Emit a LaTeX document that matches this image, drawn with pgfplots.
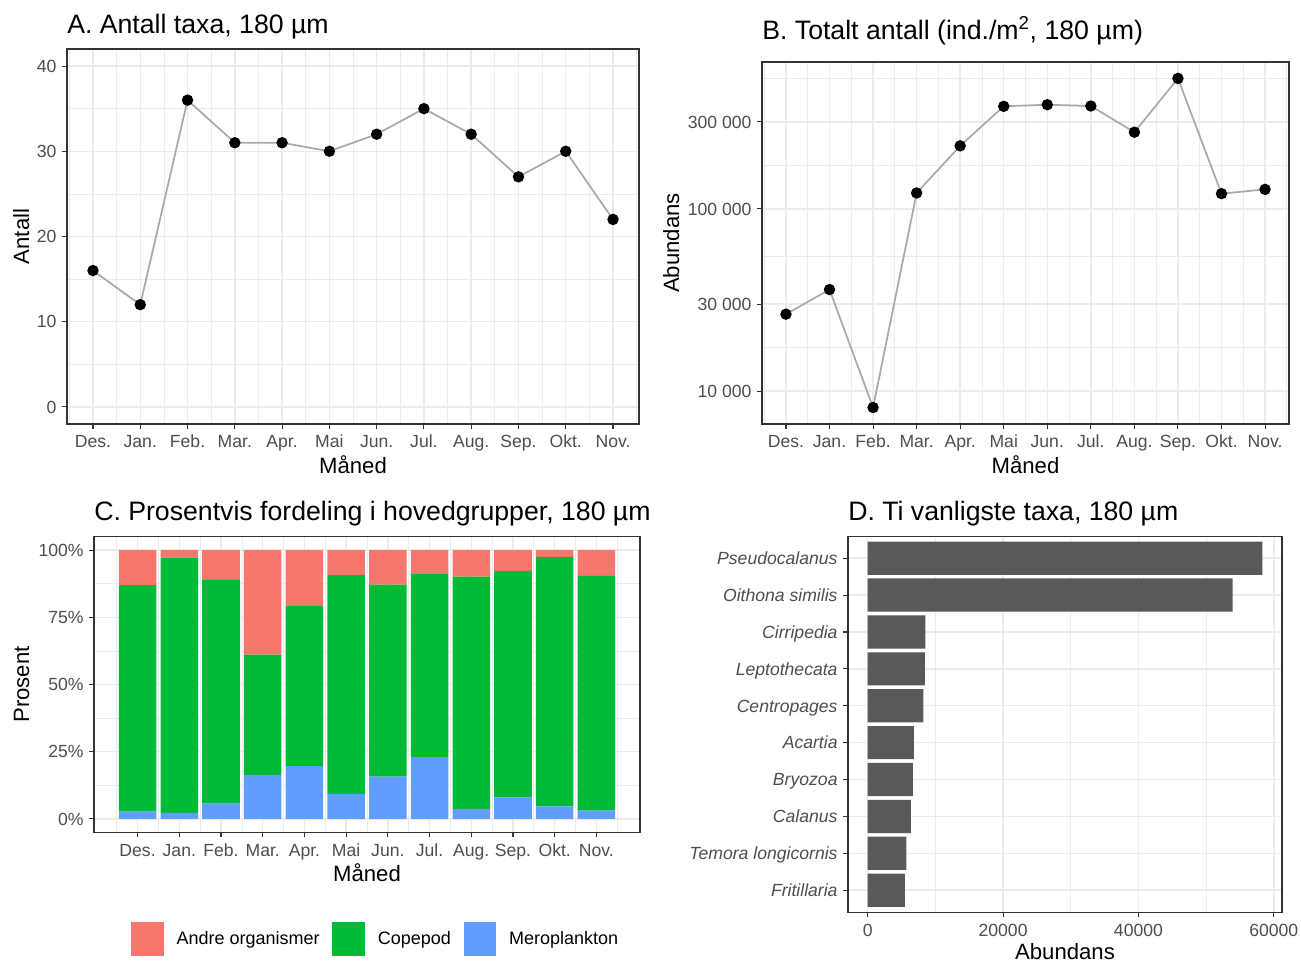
\documentclass[border=0pt]{standalone}
\usepackage{pgfplots}
\pgfplotsset{compat=1.18}
\usepackage{fontspec}
\setmainfont{Liberation Sans}
\definecolor{gray20c}{HTML}{333333}
\definecolor{gridc}{HTML}{EBEBEB}
\definecolor{tickc}{HTML}{4D4D4D}
\definecolor{lred}{HTML}{F8766D}
\definecolor{lgreen}{HTML}{00BA38}
\definecolor{lblue}{HTML}{619CFF}
\definecolor{barg}{HTML}{595959}
\definecolor{lineg}{HTML}{A9A9A9}
\pgfplotsset{
 gg/.style={
  scale only axis,
  anchor=south west,
  axis line style={draw=gray20c, line width=0.8pt},
  tick align=outside,
  xtick pos=bottom, ytick pos=left,
  major tick length=3.75pt,
  minor tick length=0pt,
  tick style={draw=gray20c, line width=0.8pt},
  grid style={draw=gridc, line width=1.1pt},
  minor grid style={draw=gridc, line width=0.55pt},
  xmajorgrids, ymajorgrids,
  scaled x ticks=false, scaled y ticks=false,
  tick label style={font=\fontsize{13.2}{15}\selectfont, text=tickc, inner sep=0pt},
  label style={font=\fontsize{16.6}{19}\selectfont, inner sep=0pt},
  title style={font=\fontsize{20}{24}\selectfont, at={(axis description cs:0,1)}, anchor=base west, inner sep=0pt},
  xlabel style={at={(axis description cs:0.5,0)}, anchor=base, yshift=-37.5pt},
  ylabel style={anchor=base},
  xticklabel style={anchor=base, yshift=-14pt},
  yticklabel style={anchor=base east, xshift=-3.9pt, yshift=-4.7pt},
  /pgf/number format/assume math mode=true,
  /pgf/number format/1000 sep={},
 },
 months/.style={
  xtick={0,...,11},
  xticklabels={Des.,Jan.,Feb.,Mar.,Apr.,Mai,Jun.,Jul.,Aug.,Sep.,Okt.,Nov.},
  minor xtick={-0.5,0.5,...,11.5},
  xminorgrids,
 }
}
\begin{document}
\begin{tikzpicture}
\path[use as bounding box] (0pt,0pt) rectangle (975.75pt,722.25pt);

% ---------------- A ----------------
\begin{axis}[gg, months, at={(50.25pt,404.25pt)}, width=429pt, height=281.25pt,
 xmin=-0.55, xmax=11.55, ymin=-2, ymax=42,
 ytick={0,10,20,30,40}, minor ytick={5,15,25,35}, yminorgrids,
 title={A. Antall taxa, 180 µm}, title style={yshift=5.5pt},
 xlabel={Måned}, ylabel={Antall},
 ylabel style={at={(axis description cs:-0.0664,0.5)}}]
\addplot[color=lineg, line width=1.3pt, mark=*, mark size=3.6pt, mark options={draw=black, fill=black}] coordinates {
(0,16) (1,12) (2,36) (3,31) (4,31) (5,30) (6,32) (7,35) (8,32) (9,27) (10,30) (11,22)};
\end{axis}

% ---------------- B ----------------
\begin{axis}[gg, months, at={(571.5pt,404.25pt)}, width=395.25pt, height=271.5pt,
 ymode=log,
 xmin=-0.55, xmax=11.55, ymin=6608, ymax=639700,
 ytick={10000,30000,100000,300000}, yticklabels={{10 000},{30 000},{100 000},{300 000}},
 minor ytick={17320.5,54772.3,173205,519615}, yminorgrids,
 title={B. Totalt antall (ind./m\textsuperscript{2}, 180 µm)}, title style={yshift=10.5pt},
 xlabel={Måned}, ylabel={Abundans},
 ylabel style={at={(axis description cs:-0.1575,0.5)}}]
\addplot[color=lineg, line width=1.3pt, mark=*, mark size=3.6pt, mark options={draw=black, fill=black}] coordinates {
(0,26450) (1,36090) (2,8135) (3,122300) (4,221800) (5,365400) (6,372900) (7,366900) (8,263500) (9,519700) (10,121200) (11,127950)};
\end{axis}

% ---------------- C ----------------
\begin{axis}[gg, months, at={(70.5pt,98pt)}, width=409.5pt, height=221.7pt,
 ybar stacked, bar width=0.9,
 xmin=-1.045, xmax=12.045, ymin=-5, ymax=105,
 ytick={0,25,50,75,100}, yticklabels={0\%,25\%,50\%,75\%,100\%},
 minor ytick={12.5,37.5,62.5,87.5}, yminorgrids,
 title={C. Prosentvis fordeling i hovedgrupper, 180 µm}, title style={yshift=6pt},
 xlabel={Måned}, ylabel={Prosent},
 xlabel style={yshift=1pt},
 ylabel style={at={(axis description cs:-0.119,0.5)}},
 legend style={draw=none, fill=none, at={(axis description cs:0.0678,-0.361)}, anchor=west,
   inner sep=0pt, outer sep=0pt, font=\fontsize{13.5}{16}\selectfont,
   nodes={inner sep=0pt},
   /tikz/every odd column/.style={column sep=9.75pt},
   /tikz/every even column/.style={column sep=9.5pt}},
 legend columns=3, legend cell align=left,
 legend image code/.code={\fill[#1] (0pt,-12.75pt) rectangle (24.4pt,12.75pt);}]
\addlegendimage{fill=lred, draw=none}\addlegendentry{Andre organismer}
\addlegendimage{fill=lgreen, draw=none}\addlegendentry{Copepod}
\addlegendimage{fill=lblue, draw=none}\addlegendentry{Meroplankton}
\addplot[fill=lblue, draw=none] coordinates {
(0,2.7) (1,2.2) (2,5.7) (3,16.3) (4,19.6) (5,9.3) (6,15.7) (7,23.0) (8,3.7) (9,8.0) (10,4.7) (11,3.1)};
\addplot[fill=lgreen, draw=none] coordinates {
(0,84.3) (1,95.0) (2,83.2) (3,44.8) (4,59.7) (5,81.4) (6,71.5) (7,68.1) (8,86.5) (9,84.3) (10,92.8) (11,87.3)};
\addplot[fill=lred, draw=none] coordinates {
(0,13.0) (1,2.8) (2,11.1) (3,38.9) (4,20.7) (5,9.3) (6,12.8) (7,8.9) (8,9.8) (9,7.7) (10,2.5) (11,9.6)};
\end{axis}

% ---------------- D ----------------
\begin{axis}[gg, at={(636pt,38pt)}, width=325.5pt, height=282.2pt,
 xbar, bar width=0.9,
 xmin=-2915, xmax=61215, ymin=-0.6, ymax=9.6,
 xtick={0,20000,40000,60000}, minor xtick={10000,30000,50000}, xminorgrids,
 ytick={0,...,9},
 yticklabels={\textit{Fritillaria},\textit{Temora longicornis},\textit{Calanus},\textit{Bryozoa},\textit{Acartia},\textit{Centropages},\textit{Leptothecata},\textit{Cirripedia},\textit{Oithona similis},\textit{Pseudocalanus}},
 title={D. Ti vanligste taxa, 180 µm}, title style={yshift=5.5pt},
 xlabel={Abundans}, xlabel style={yshift=2pt}]
\addplot[fill=barg, draw=none] coordinates {
(5480,0) (5700,1) (6370,2) (6670,3) (6800,4) (8220,5) (8440,6) (8500,7) (53900,8) (58300,9)};
\end{axis}
\end{tikzpicture}
\end{document}
